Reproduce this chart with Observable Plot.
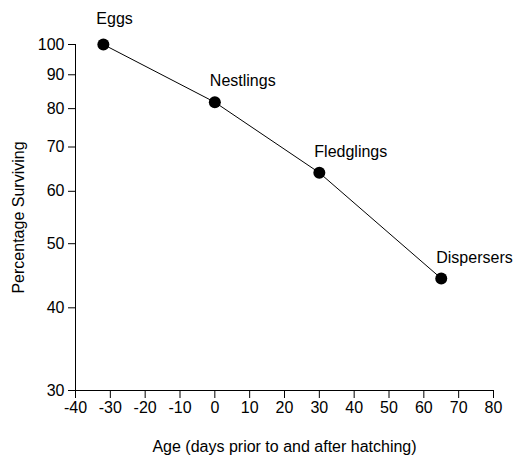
<!DOCTYPE html>
<html>
<head>
<meta charset="utf-8">
<script src="https://cdn.jsdelivr.net/npm/d3@7"></script>
<script src="https://cdn.jsdelivr.net/npm/@observablehq/plot@0.6"></script>
<style>
  html, body { margin: 0; padding: 0; background: #fff; }
  svg { font-family: "Liberation Sans", Arial, sans-serif; }
</style>
</head>
<body>
<div id="chart"></div>
<script>
const stages = ["Eggs", "Nestlings", "Fledglings", "Dispersers"];
const ages = [-32, 0, 30, 65];
const surviving = [100, 81.8, 64, 44.3];
const xTicks = [-40, -30, -20, -10, 0, 10, 20, 30, 40, 50, 60, 70, 80];
const yTicks = [30, 40, 50, 60, 70, 80, 90, 100];

const data = stages.map((s, i) => ({stage: s, age: ages[i], pct: surviving[i]}));

const chart = Plot.plot({
  width: 517,
  height: 456,
  marginLeft: 75,
  marginRight: 24,
  marginTop: 44,
  marginBottom: 66,
  style: {fontFamily: '"Liberation Sans", Arial, sans-serif', fontSize: "16px", color: "#000", background: "#fff"},
  x: {domain: [-40, 80]},
  y: {type: "log", domain: [30, 100]},
  marks: [
    Plot.axisX({ticks: xTicks, tickSize: 8, tickPadding: 3, tickFormat: d => String(d),
      label: "Age (days prior to and after hatching)", labelAnchor: "center", labelArrow: "none", labelOffset: 61,
      fontSize: 16}),
    Plot.axisY({ticks: yTicks, tickSize: 7, tickPadding: 4, tickFormat: d => String(d),
      label: "Percentage Surviving", labelAnchor: "center", labelArrow: "none", labelOffset: 63,
      fontSize: 16}),
    Plot.ruleY([30], {stroke: "#000", strokeWidth: 1}),
    Plot.ruleX([-40], {y1: 30, y2: 100, stroke: "#000", strokeWidth: 1}),
    Plot.line(data, {x: "age", y: "pct", stroke: "#000", strokeWidth: 1}),
    Plot.dot(data, {x: "age", y: "pct", r: 6, fill: "#000", stroke: "none"}),
    Plot.text(data.filter(d => d.stage === "Eggs"), {x: "age", y: "pct", text: "stage", textAnchor: "start", dx: -7, dy: -26, fontSize: 16, fill: "#000"}),
    Plot.text(data.filter(d => d.stage !== "Eggs"), {x: "age", y: "pct", text: "stage", textAnchor: "start", dx: -5, dy: -21, fontSize: 16, fill: "#000"})
  ]
});
document.getElementById("chart").appendChild(chart);
</script>
</body>
</html>
